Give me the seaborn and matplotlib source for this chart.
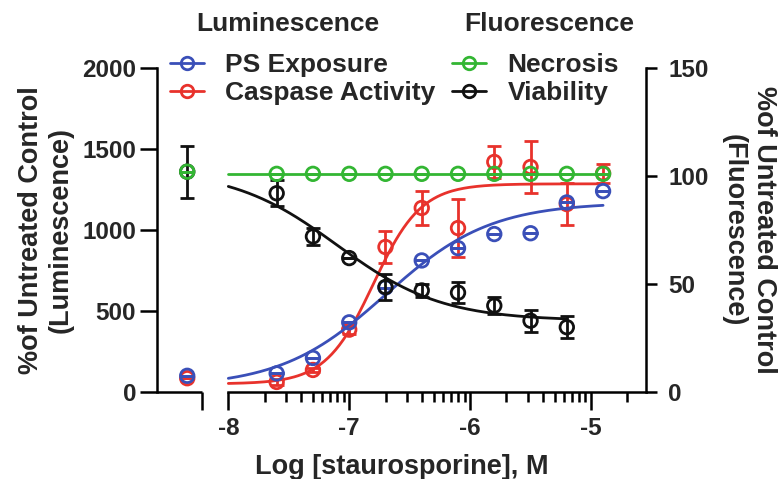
import numpy as np
import pandas as pd
import matplotlib
matplotlib.use("Agg")
import matplotlib.pyplot as plt
import seaborn as sns
from matplotlib.lines import Line2D
from matplotlib.ticker import FixedLocator

sns.set_theme(style="white")
plt.rcParams["font.family"] = ["Liberation Sans", "DejaVu Sans"]
plt.rcParams["font.weight"] = "bold"
plt.rcParams["axes.labelweight"] = "bold"

# ---------------- data ----------------
log_dose = [-7.6, -7.3, -7.0, -6.7, -6.4, -6.1, -5.8, -5.5, -5.2, -4.9]
viab_dose = [-7.6, -7.3, -7.0, -6.7, -6.4, -6.1, -5.8, -5.5, -5.2]
untreated_x = -8.34

ps_untreated = 100
ps_values = [115, 210, 430, 645, 812, 888, 975, 980, 1170, 1240]
ps_err = [0, 0, 0, 0, 0, 0, 0, 0, 0, 0]

casp_untreated = 85
casp_values = [62, 136, 385, 895, 1136, 1012, 1420, 1389, 1160, 1350]
casp_err = [20, 15, 30, 100, 105, 180, 100, 160, 130, 60]

necr_untreated = 102
necr_values = [101, 101, 101, 101, 101, 101, 101, 101, 101, 101]

viab_untreated = 102
viab_untreated_err = 12
viab_values = [92, 72, 62, 48.6, 47, 46, 40, 33, 30]
viab_err = [6, 4, 0, 6, 3, 5, 4, 5, 5]

# 4-parameter logistic fit parameters: bottom, top, logEC50, hill
ps_fit = [30, 1170, -6.7, 1.0]
casp_fit = [50, 1285, -6.8, 2.2]
viab_fit = [33, 103, -7.1, -1.0]
necr_fit = [101, 101, -6.5, 1.0]

x_ticks = [-8, -7, -6, -5]
x_tick_labels = ["-8", "-7", "-6", "-5"]
left_ticks = [0, 500, 1000, 1500, 2000]
right_ticks = [0, 50, 100, 150]

BLUE = "#3a4fb8"
RED = "#e8322c"
GREEN = "#33b633"
BLACK = "#111111"


def four_pl(x, p):
    b, t, ec, h = p
    return b + (t - b) / (1 + 10 ** ((ec - x) * h))


# ---------------- figure ----------------
fig = plt.figure(figsize=(7.84, 4.79), dpi=100)
ax = fig.add_axes([157 / 784, 1 - 392 / 479, (646 - 157) / 784, (392 - 68) / 479])
ax2 = ax.twinx()

xmin, xmax = -8.59, -4.545
ax.set_xlim(xmin, xmax)
ax.set_ylim(0, 2000)
ax2.set_ylim(0, 150)

FS = 17.5
LFS = 19.5
LW = 1.8


def draw(axis, xs, ys, err, fit, x_end, color, ux, uy, uerr, z):
    grid = np.linspace(-8.0, x_end, 200)
    curve = pd.DataFrame({"x": grid, "y": four_pl(grid, fit)})
    sns.lineplot(data=curve, x="x", y="y", ax=axis, color=color, lw=2, zorder=z)
    allx = [ux] + list(xs)
    ally = [uy] + list(ys)
    alle = [uerr] + list(err)
    axis.errorbar(allx, ally, yerr=alle, fmt="none", ecolor=color, elinewidth=2,
                  capsize=5, capthick=2, zorder=z + 0.1, clip_on=False)
    pts = pd.DataFrame({"x": allx, "y": ally})
    sns.scatterplot(data=pts, x="x", y="y", ax=axis, marker="o", s=95,
                    facecolor="none", edgecolor=color, linewidth=2,
                    zorder=z + 0.2, clip_on=False)


draw(ax, log_dose, casp_values, casp_err, casp_fit, -4.9, RED,
     untreated_x, casp_untreated, 0, 3)
draw(ax, log_dose, ps_values, ps_err, ps_fit, -4.9, BLUE,
     untreated_x, ps_untreated, 0, 4)
draw(ax2, viab_dose, viab_values, viab_err, viab_fit, -5.2, BLACK,
     untreated_x, viab_untreated, viab_untreated_err, 3)
draw(ax2, log_dose, necr_values, [0] * len(necr_values), necr_fit, -4.9, GREEN,
     untreated_x, necr_untreated, 0, 4)

# ---------------- axes styling ----------------
for a in (ax, ax2):
    a.set_xlabel("")
    a.set_ylabel("")
    a.spines["top"].set_visible(False)
    for s in a.spines.values():
        s.set_linewidth(LW)
        s.set_color("black")
    a.patch.set_visible(False)

ax.spines["right"].set_visible(False)
ax2.spines["left"].set_visible(False)
ax2.spines["bottom"].set_visible(False)

# broken x axis
ax.spines["bottom"].set_bounds(-8.0, xmax)
break_end = -8.215
ax.plot([xmin, break_end], [0, 0], transform=ax.get_xaxis_transform(), color="black",
        lw=LW, clip_on=False, solid_capstyle="butt", zorder=5)

ax.set_xticks([break_end] + x_ticks)
ax.set_xticklabels([""] + x_tick_labels)
minor = []
for d in [-8, -7, -6, -5]:
    for k in range(2, 10):
        v = d + np.log10(k)
        if v < xmax:
            minor.append(v)
ax.xaxis.set_minor_locator(FixedLocator(minor))
ax.tick_params(axis="x", which="major", direction="out", length=13, width=LW,
               labelsize=FS, pad=5, bottom=True, color="black")
ax.tick_params(axis="x", which="minor", direction="out", length=7, width=LW,
               bottom=True, color="black")

ax.set_yticks(left_ticks)
ax.tick_params(axis="y", which="major", direction="out", length=12, width=LW,
               labelsize=FS, pad=3, left=True, color="black")
ax2.set_yticks(right_ticks)
ax2.tick_params(axis="y", which="major", direction="out", length=8, width=LW,
                labelsize=FS, pad=8, right=True, color="black")
for lab in ax.get_xticklabels() + ax.get_yticklabels() + ax2.get_yticklabels():
    lab.set_fontweight("bold")

ax.set_xlabel("Log [staurosporine], M", fontsize=LFS, fontweight="bold", labelpad=10)
ax.set_ylabel("%of Untreated Control\n(Luminescence)", fontsize=LFS,
              fontweight="bold", linespacing=1.2, labelpad=6)
ax2.set_ylabel("%of Untreated Control\n(Fluorescence)", fontsize=LFS,
               fontweight="bold", linespacing=1.2, rotation=270, labelpad=49)

# ---------------- legends ----------------
def handle(c):
    return Line2D([], [], color=c, lw=2, marker="o", markersize=9,
                  markerfacecolor="none", markeredgecolor=c, markeredgewidth=2)


leg_kw = dict(frameon=False, fontsize=19, handlelength=1.3,
              handletextpad=0.8, labelspacing=0.17, borderpad=0, borderaxespad=0,
              loc="upper left")
leg1 = fig.legend([handle(BLUE), handle(RED)], ["PS Exposure", "Caspase Activity"],
                  bbox_to_anchor=(170 / 784, 1 - 53 / 479), **leg_kw)
leg2 = fig.legend([handle(GREEN), handle(BLACK)], ["Necrosis", "Viability"],
                  bbox_to_anchor=(452 / 784, 1 - 53 / 479), **leg_kw)
for lg in (leg1, leg2):
    for t in lg.get_texts():
        t.set_fontweight("bold")

fig.text(288 / 784, 1 - 24 / 479, "Luminescence", fontsize=19, fontweight="bold",
         ha="center", va="center")
fig.text(549 / 784, 1 - 24 / 479, "Fluorescence", fontsize=19, fontweight="bold",
         ha="center", va="center")

fig.savefig("out.png", dpi=100)
